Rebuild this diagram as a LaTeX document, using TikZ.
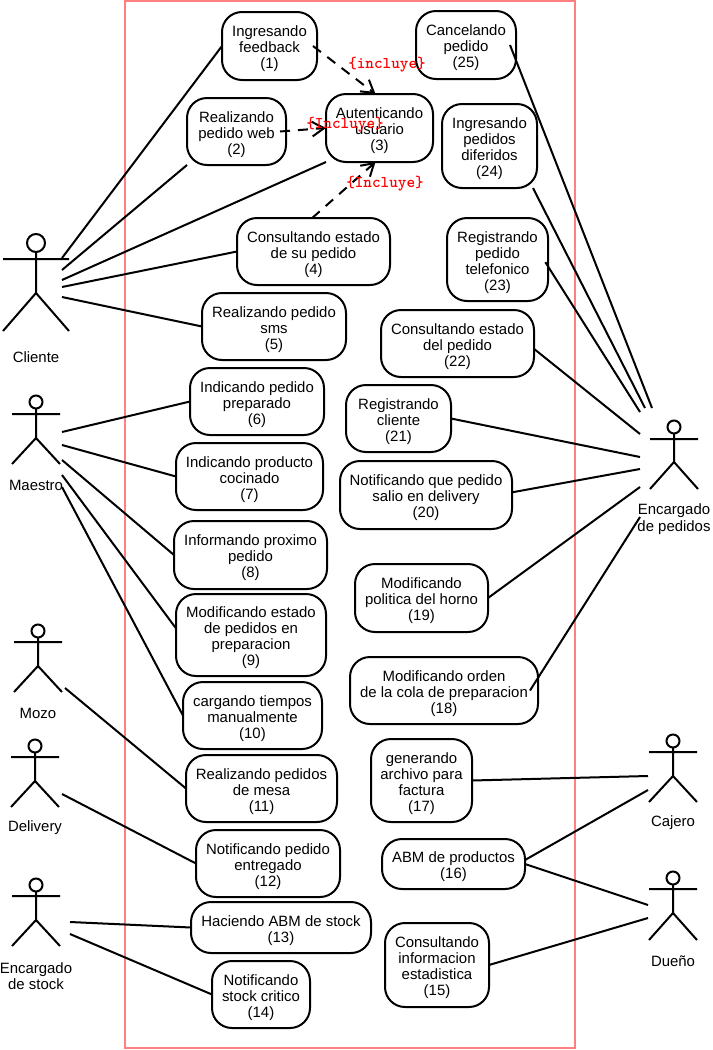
\documentclass[tikz,border=0pt]{standalone}
\usepackage{fontspec}
\setmainfont{Liberation Sans}
\usetikzlibrary{arrows.meta}
\definecolor{frameRed}{RGB}{255,128,128}
\tikzset{
  ucase/.style={draw=black,line width=1.5pt,rounded corners=15pt,inner sep=0pt,outer sep=0pt,align=center,
    font=\fontsize{11.2pt}{12pt}\selectfont,fill=white},
  link/.style={draw=black,line width=1.5pt},
  inc/.style={draw=black,line width=1.5pt,dash pattern=on 7.5pt off 6pt,-{Straight Barb[length=9pt,width=11pt,line width=1.5pt]}},
  inclabel/.style={text=red,font=\ttfamily\bfseries\fontsize{12.3pt}{12pt}\selectfont,inner sep=0pt},
  actorline/.style={draw=black,line width=1.5pt},
  actorlabel/.style={align=center,inner sep=0pt,font=\fontsize{11.2pt}{12.4pt}\selectfont},
}
\newcommand{\uc}[6]{\node[ucase,minimum width={(#4-#2)*0.75pt},minimum height={(#5-#3)*0.75pt}] (#1) at ({(#2+#4)/2},{(#3+#5)/2}) {\rule{0pt}{12.5pt}#6};}
% cx, head y, r, arm y, hip y, foot y, half width
\newcommand{\actor}[7]{%
  \draw[actorline] (#1,#2) circle[radius=#3*0.75pt];
  \draw[actorline] ({#1},{#2+#3}) -- (#1,#5) (#1-#7,#4) -- (#1+#7,#4) (#1-#7,#6) -- (#1,#5) -- (#1+#7,#6);
}
\begin{document}
\begin{tikzpicture}[x=0.75pt,y=-0.75pt]
\useasboundingbox (0,0) rectangle (713,1050);
\draw[draw=frameRed,line width=1.5pt] (125,1) rectangle (575,1048);

% free ends at the actors
\coordinate (cl1) at (62,258);
\coordinate (cl2) at (62,270);
\coordinate (cl3) at (62,280);
\coordinate (cl4) at (62,287);
\coordinate (cl5) at (62,297);
\coordinate (ma1) at (62,432);
\coordinate (ma2) at (62,445);
\coordinate (ma3) at (62,460);
\coordinate (ma4) at (62,475);
\coordinate (ma5) at (62,487);
\coordinate (mo1) at (65,688);
\coordinate (de1) at (62,794);
\coordinate (st1) at (70,922);
\coordinate (st2) at (70,934);
\coordinate (ep1) at (652,408);
\coordinate (ep2) at (645,408);
\coordinate (ep3) at (640,412);
\coordinate (ep4) at (640,434);
\coordinate (ep5) at (640,457);
\coordinate (ep6) at (640,469);
\coordinate (ep7) at (640,487);
\coordinate (ep8) at (640,517);
\coordinate (ca1) at (648,776);
\coordinate (ca2) at (648,790);
\coordinate (du1) at (648,905);
\coordinate (du2) at (648,918);

\uc{n1}{222}{12}{317}{80}{Ingresando\\feedback\\(1)}
\uc{n2}{187}{98}{286}{165}{Realizando\\pedido web\\(2)}
\uc{n3}{326}{94}{433}{162}{Autenticando\\usuario\\(3)}
\uc{n4}{237}{218}{390}{285}{Consultando estado\\de su pedido\\(4)}
\uc{n5}{202}{293}{346}{360}{Realizando pedido\\sms\\(5)}
\uc{n6}{190}{368}{324}{435}{Indicando pedido\\preparado\\(6)}
\uc{n7}{176}{443}{323}{510}{Indicando producto\\cocinado\\(7)}
\uc{n8}{174}{521}{327}{589}{Informando proximo\\pedido\\(8)}
\uc{n9}{176}{594}{326}{676}{Modificando estado\\de pedidos en\\preparacion\\(9)}
\uc{n10}{183}{682}{322}{749}{cargando tiempos\\manualmente\\(10)}
\uc{n11}{186}{755}{337}{822}{Realizando pedidos\\de mesa\\(11)}
\uc{n12}{196}{830}{340}{897}{Notificando pedido\\entregado\\(12)}
\uc{n13}{191}{902}{371}{953}{Haciendo ABM de stock\\(13)}
\uc{n14}{212}{961}{310}{1028}{Notificando\\stock critico\\(14)}
\uc{n15}{385}{923}{489}{1007}{Consultando\\informacion\\estadistica\\(15)}
\uc{n16}{382}{839}{525}{889}{ABM de productos\\(16)}
\uc{n17}{371}{739}{472}{822}{generando\\archivo para\\factura\\(17)}
\uc{n18}{350}{657}{538}{724}{Modificando orden\\de la cola de preparacion\\(18)}
\uc{n19}{355}{564}{488}{632}{Modificando\\politica del horno\\(19)}
\uc{n20}{340}{461}{512}{529}{Notificando que pedido\\salio en delivery\\(20)}
\uc{n21}{346}{385}{451}{452}{Registrando\\cliente\\(21)}
\uc{n22}{381}{310}{534}{377}{Consultando estado\\del pedido\\(22)}
\uc{n23}{447}{218}{548}{301}{Registrando\\pedido\\telefonico\\(23)}
\uc{n24}{442}{104}{537}{188}{Ingresando\\pedidos\\diferidos\\(24)}
\uc{n25}{416}{11}{516}{79}{Cancelando\\pedido\\(25)}

\draw[link] (cl1) -- (n1.west);
\draw[link] (cl2) -- (n2.south west);
\draw[link] (cl3) -- (n3.south west);
\draw[link] (cl4) -- (n4.west);
\draw[link] (cl5) -- (n5.west);
\draw[link] (ma1) -- (n6.west);
\draw[link] (ma2) -- (n7.west);
\draw[link] (ma3) -- (n8.west);
\draw[link] (ma4) -- ([yshift=5pt]n9.west);
\draw[link] (ma5) -- (n10.west);
\draw[link] (mo1) -- (n11.west);
\draw[link] (de1) -- (n12.west);
\draw[link] (st1) -- (n13.west);
\draw[link] (st2) -- (n14.west);
\draw[link] (ep1) -- ([xshift=-4.5pt]n25.east);
\draw[link] (ep2) -- ([xshift=-3pt]n24.south east);
\draw[link] (ep3) -- ([xshift=-2pt,yshift=-2pt]n23.east);
\draw[link] (ep4) -- ([yshift=-4pt]n22.east);
\draw[link] (ep5) -- (n21.east);
\draw[link] (ep6) -- ([yshift=2pt]n20.east);
\draw[link] (ep7) -- (n19.east);
\draw[link] (ep8) -- ([xshift=-6pt]n18.east);
\draw[link] (ca1) -- (n17.east);
\draw[link] (ca2) -- ([yshift=3pt]n16.east);
\draw[link] (du1) -- (n16.east);
\draw[link] (du2) -- (n15.east);

% include arrows
\draw[inc] ([xshift=-3pt]n1.east) -- ([xshift=-3pt]n3.north);
\draw[inc] ([xshift=-4.5pt]n2.east) -- (n3.west);
\draw[inc] ([xshift=-1pt]n4.north) -- ([xshift=-3pt]n3.south);
\node[inclabel] (l1) at (387,65) {\{incluye\}};
\node[inclabel] (l2) at (345,125) {\{Incluye\}};
\node[inclabel] (l3) at (385,184) {\{Incluye\}};

% actors
\actor{36}{243}{9}{259}{293}{331}{33}
\actor{36}{402}{6.5}{414}{438}{464}{24}
\actor{38}{631}{6.5}{642}{666}{692}{24}
\actor{35}{746}{6.5}{757}{781}{807}{24}
\actor{36}{885}{6.5}{896}{920}{946}{24}
\actor{674}{427}{6.5}{439}{462}{489}{24}
\actor{673}{741}{6.5}{752}{776}{802}{24}
\actor{673}{878}{6.5}{889}{913}{940}{24}
\node[actorlabel] (a1) at (36,357) {Cliente};
\node[actorlabel] (a2) at (36,485) {Maestro};
\node[actorlabel] (a3) at (38,713) {Mozo};
\node[actorlabel] (a4) at (35,828) {Delivery};
\node[actorlabel] (a5) at (36,976) {Encargado\\de stock};
\node[actorlabel] (a6) at (674,519) {Encargado\\de pedidos};
\node[actorlabel] (a7) at (673,823) {Cajero};
\node[actorlabel] (a8) at (673,961) {Dueño};
\end{tikzpicture}
\end{document}
